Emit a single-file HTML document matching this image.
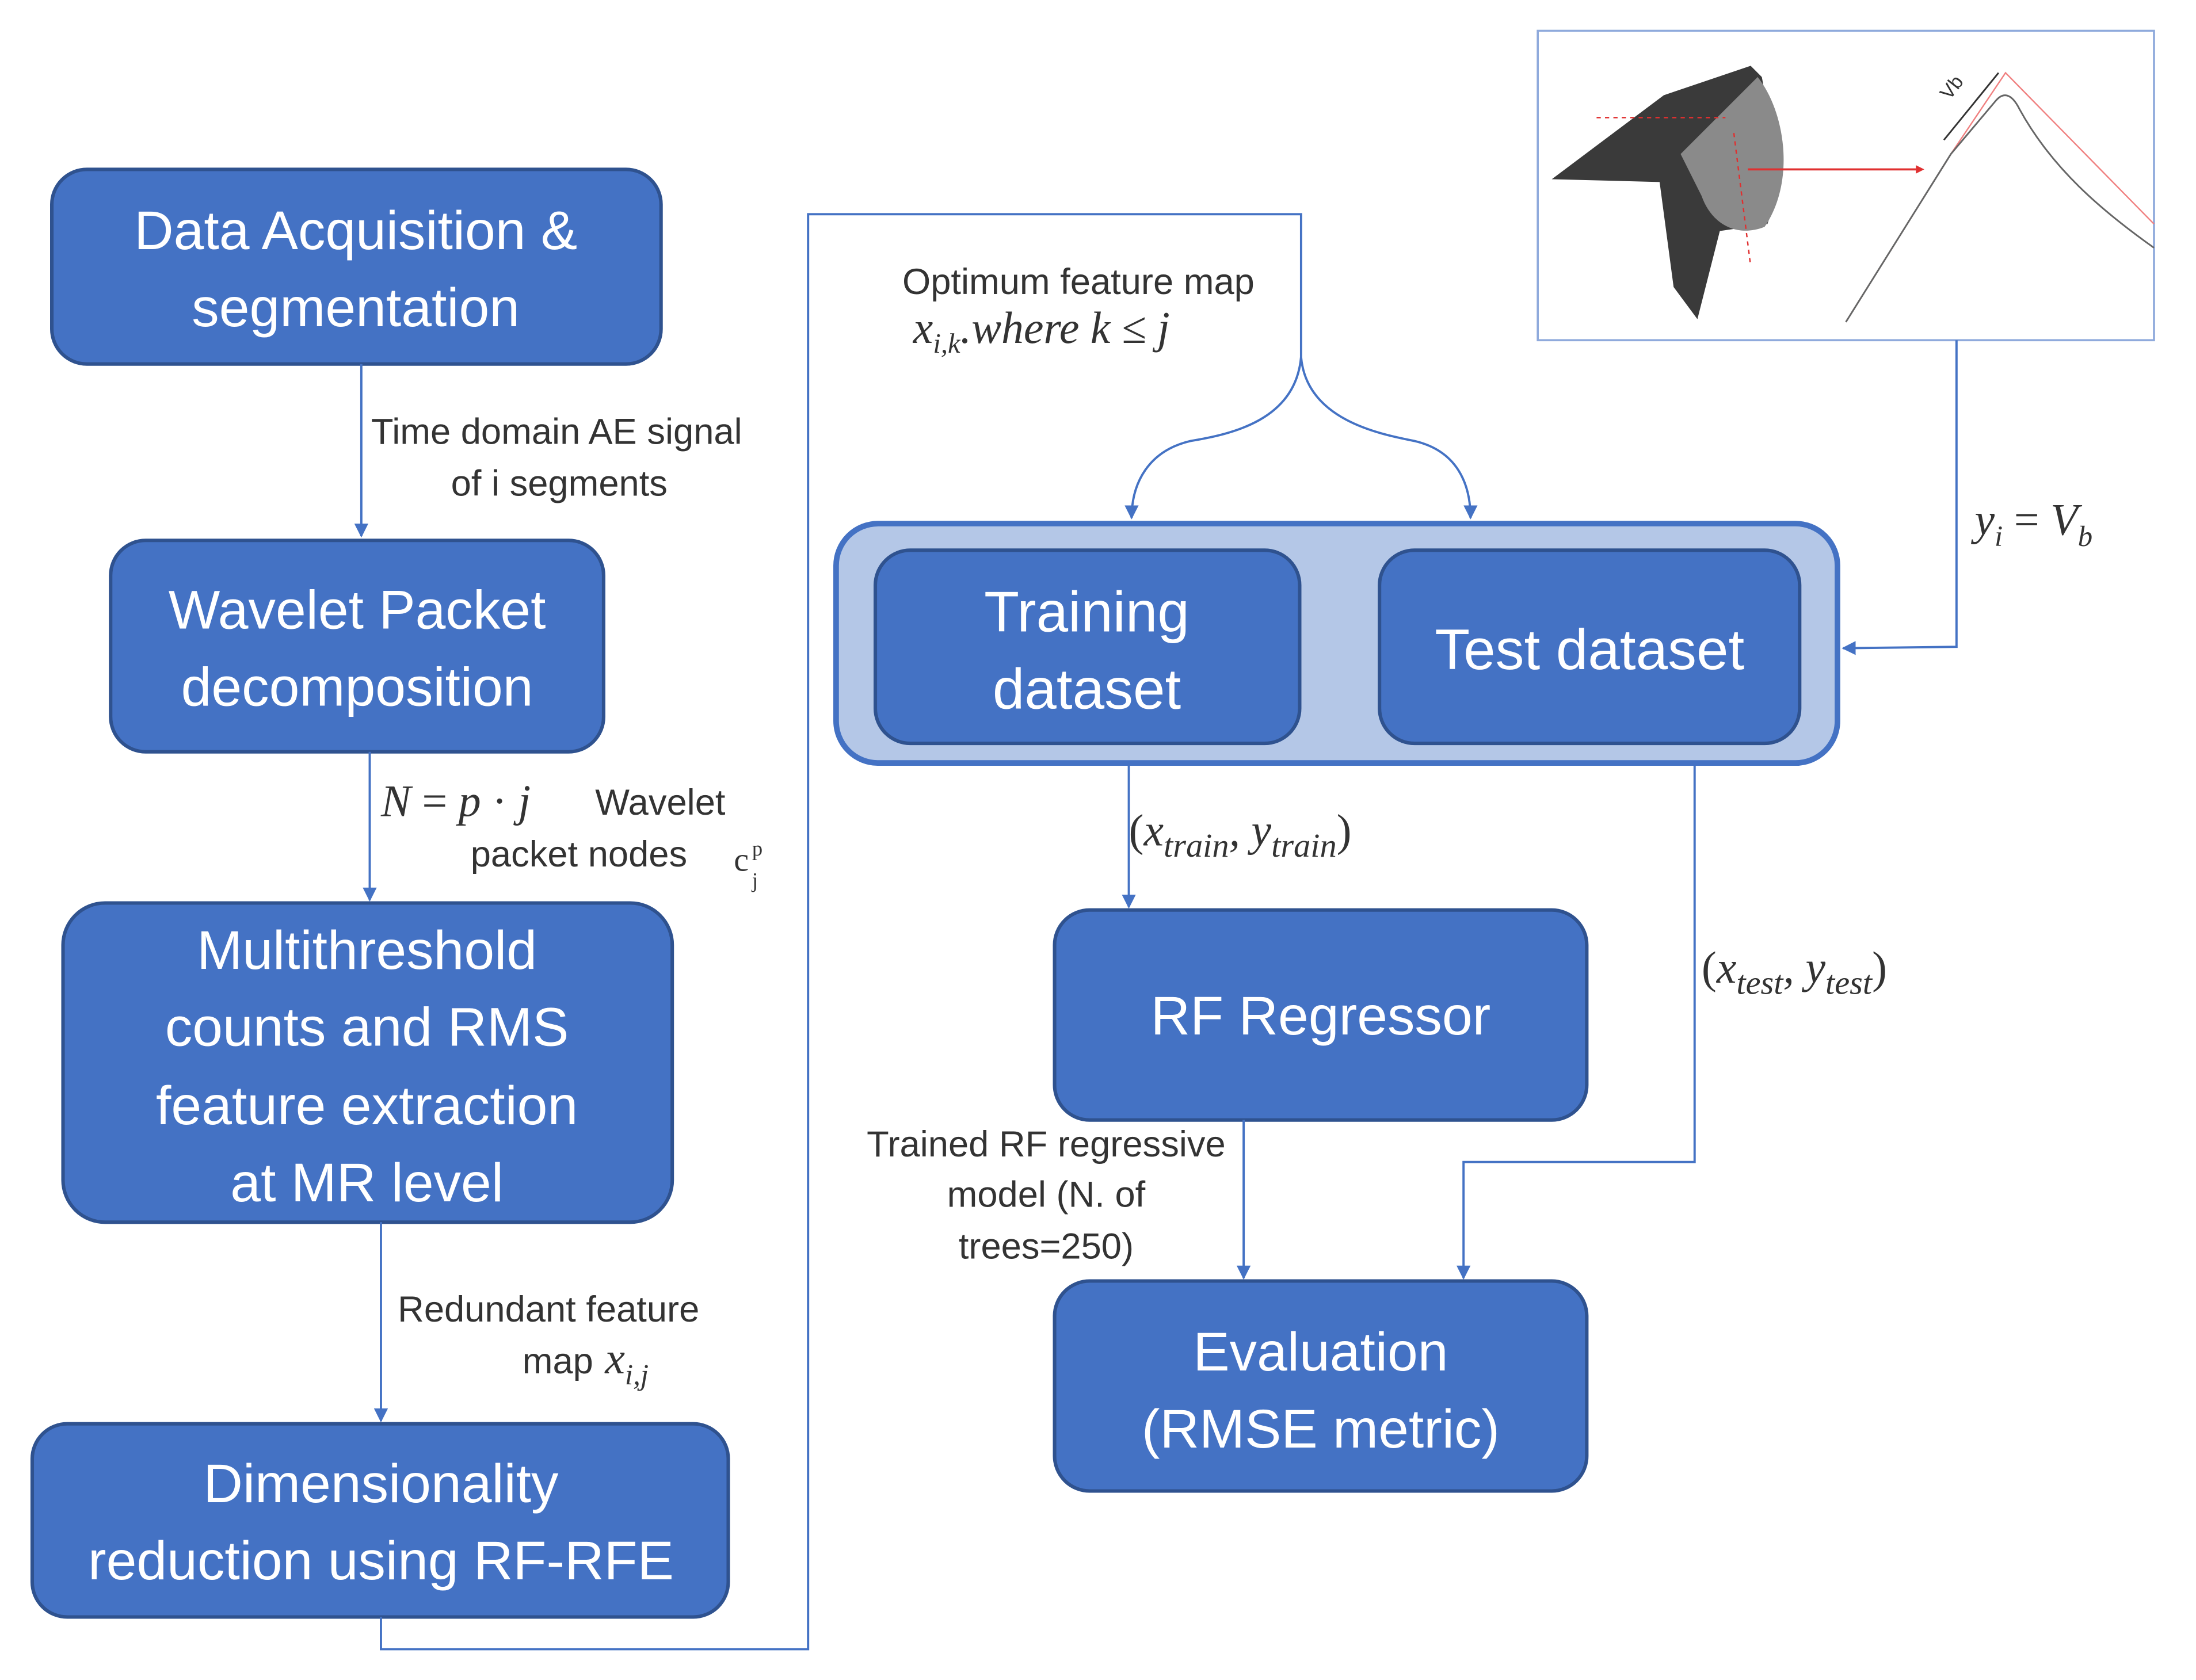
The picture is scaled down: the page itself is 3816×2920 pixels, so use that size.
<!DOCTYPE html>
<html><head><meta charset="utf-8"><style>
html,body{margin:0;padding:0;background:#fff;}
svg{display:block;}
.bt{font-family:"Liberation Sans",sans-serif;fill:#fff;text-anchor:middle;font-size:39px;}
.lb{font-family:"Liberation Sans",sans-serif;fill:#333;font-size:26px;}
.mt{font-family:"Liberation Serif",serif;font-style:italic;fill:#333;font-size:32px;}
.box{fill:#4472C4;stroke:#2F528F;stroke-width:2.5;}
.ln{stroke:#4472C4;stroke-width:1.6;fill:none;}
</style></head><body>
<svg width="3816" height="2920" viewBox="0 0 1568 1200" preserveAspectRatio="none" xmlns="http://www.w3.org/2000/svg">
<defs><marker id="ar" markerWidth="10" markerHeight="10" refX="9" refY="5" orient="auto" markerUnits="userSpaceOnUse"><path d="M0,0 L10,5 L0,10 z" fill="#4472C4"/></marker></defs>
<rect width="1568" height="1200" fill="#fff"/>

<rect class="box" x="37" y="121" width="435" height="139" rx="25"/>
<text class="bt" x="254" y="178">Data Acquisition &amp;</text>
<text class="bt" x="254" y="233">segmentation</text>

<rect class="box" x="79" y="386" width="352" height="151" rx="25"/>
<text class="bt" x="255" y="449">Wavelet Packet</text>
<text class="bt" x="255" y="504">decomposition</text>

<rect class="box" x="45" y="645" width="435" height="228" rx="30"/>
<text class="bt" x="262" y="692">Multithreshold</text>
<text class="bt" x="262" y="747">counts and RMS</text>
<text class="bt" x="262" y="803">feature extraction</text>
<text class="bt" x="262" y="858">at MR level</text>

<rect class="box" x="23" y="1017" width="497" height="138" rx="25"/>
<text class="bt" x="272" y="1073">Dimensionality</text>
<text class="bt" x="272" y="1128">reduction using RF-RFE</text>

<line class="ln" x1="258" y1="260" x2="258" y2="383" marker-end="url(#ar)"/>
<text class="lb" x="265" y="317">Time domain AE signal</text>
<text class="lb" x="322" y="354">of i segments</text>

<line class="ln" x1="264" y1="537" x2="264" y2="643" marker-end="url(#ar)"/>
<text class="mt" x="272" y="583">N <tspan font-style="normal">= </tspan>p <tspan font-style="normal">·</tspan> j</text>
<text class="lb" x="425" y="582">Wavelet</text>
<text class="lb" x="336" y="619">packet nodes</text>
<text x="524" y="622" font-family="Liberation Serif,serif" font-size="24" fill="#333">c</text>
<text x="537" y="611" font-family="Liberation Serif,serif" font-size="15" fill="#333">p</text>
<text x="537" y="634" font-family="Liberation Serif,serif" font-size="15" fill="#333">j</text>

<line class="ln" x1="272" y1="873" x2="272" y2="1015" marker-end="url(#ar)"/>
<text class="lb" x="284" y="944">Redundant feature</text>
<text class="lb" x="373" y="981">map</text>
<text class="mt" x="432" y="981">x<tspan dy="8" font-size="21">i,j</tspan></text>

<polyline class="ln" points="272,1155 272,1178 577,1178 577,153 929,153 929,255"/>
<path class="ln" d="M929,255 C925,300 880,310 850,315 C820,322 808,345 808,370" marker-end="url(#ar)"/>
<path class="ln" d="M929,255 C933,300 985,310 1010,315 C1040,322 1050,345 1050,370" marker-end="url(#ar)"/>
<text class="lb" x="770" y="210" text-anchor="middle">Optimum feature map</text>
<text class="mt" x="652" y="245">x<tspan dy="7" font-size="20">i,k</tspan><tspan dy="-7">.where  k ≤ j</tspan></text>

<rect x="597" y="374" width="715" height="171" rx="30" fill="#B4C7E7" stroke="#4472C4" stroke-width="4"/>
<rect class="box" x="625" y="393" width="303" height="138" rx="25"/>
<text class="bt" x="776" y="451" style="font-size:41px">Training</text>
<text class="bt" x="776" y="506" style="font-size:41px">dataset</text>
<rect class="box" x="985" y="393" width="300" height="138" rx="25"/>
<text class="bt" x="1135" y="478" style="font-size:41px">Test dataset</text>

<rect x="1098" y="22" width="440" height="221" fill="#fff" stroke="#8FAADC" stroke-width="1.5"/>
<polygon points="1108,128 1188,68 1250,47 1258,55 1272,130 1262,160 1228,165 1212,228 1195,205 1185,130" fill="#3a3a3a"/>
<path d="M1200,110 L1255,55 C1275,80 1282,130 1260,162 C1240,170 1222,160 1215,140 Z" fill="#8a8a8a"/>
<line x1="1140" y1="84" x2="1232" y2="84" stroke="#e03030" stroke-width="1" stroke-dasharray="3,3"/>
<line x1="1238" y1="95" x2="1250" y2="190" stroke="#e03030" stroke-width="1" stroke-dasharray="3,3"/>
<line x1="1248" y1="121" x2="1368" y2="121" stroke="#e03030" stroke-width="1.5"/>
<polygon points="1368,118 1374,121 1368,124" fill="#e03030"/>
<polyline points="1318,230 1393,110 1432,52 1538,160" fill="none" stroke="#f08080" stroke-width="1"/>
<path d="M1318,230 L1393,110 L1425,72 C1430,66 1436,66 1442,78 C1465,120 1500,150 1538,177" fill="none" stroke="#666" stroke-width="1.2"/>
<line x1="1388" y1="100" x2="1427" y2="52" stroke="#333" stroke-width="1.2"/>
<text x="1392" y="72" font-family="Liberation Sans,sans-serif" font-size="14" fill="#333" transform="rotate(-52 1392 72)">Vb</text>

<polyline class="ln" points="1397,243 1397,462 1316,463" marker-end="url(#ar)"/>
<text class="mt" x="1410" y="382">y<tspan dy="8" font-size="21">i</tspan><tspan dy="-8" font-style="normal"> = </tspan>V<tspan dy="8" font-size="21">b</tspan></text>

<line class="ln" x1="806" y1="545" x2="806" y2="648" marker-end="url(#ar)"/>
<text class="mt" x="806" y="604"><tspan font-style="normal">(</tspan>x<tspan dy="8" font-size="24">train</tspan><tspan dy="-8">, y</tspan><tspan dy="8" font-size="24">train</tspan><tspan dy="-8" font-style="normal">)</tspan></text>

<rect class="box" x="753" y="650" width="380" height="150" rx="25"/>
<text class="bt" x="943" y="739">RF Regressor</text>

<polyline class="ln" points="1210,545 1210,830 1045,830 1045,913" marker-end="url(#ar)"/>
<text class="mt" x="1215" y="702"><tspan font-style="normal">(</tspan>x<tspan dy="8" font-size="24">test</tspan><tspan dy="-8">, y</tspan><tspan dy="8" font-size="24">test</tspan><tspan dy="-8" font-style="normal">)</tspan></text>

<line class="ln" x1="888" y1="800" x2="888" y2="913" marker-end="url(#ar)"/>
<text class="lb" x="747" y="826" text-anchor="middle">Trained RF regressive</text>
<text class="lb" x="747" y="862" text-anchor="middle">model (N. of</text>
<text class="lb" x="747" y="899" text-anchor="middle">trees=250)</text>

<rect class="box" x="753" y="915" width="380" height="150" rx="25"/>
<text class="bt" x="943" y="979">Evaluation</text>
<text class="bt" x="943" y="1034">(RMSE metric)</text>
</svg>
</body></html>
